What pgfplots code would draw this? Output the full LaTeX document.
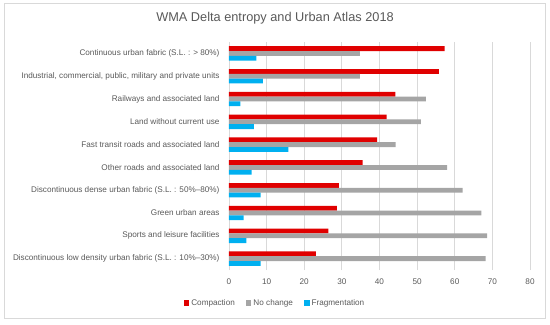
\documentclass[border=0pt]{standalone}
\usepackage{fontspec}
\setmainfont{Liberation Sans}
\usepackage{pgfplots}
\usepackage{pgfplotstable}
\pgfplotsset{compat=1.18}
\definecolor{cred}{HTML}{E00000}
\definecolor{cgray}{HTML}{A5A5A5}
\definecolor{cblue}{HTML}{00B0F0}
\definecolor{ctext}{HTML}{595959}
\definecolor{cgrid}{HTML}{D9D9D9}
\pgfplotstableread{
pos comp nochange frag
9 57.3 34.8 7.3
8 55.8 34.8 9.0
7 44.2 52.3 3.0
6 41.9 51.0 6.6
5 39.4 44.3 15.8
4 35.5 58.0 6.0
3 29.2 62.1 8.4
2 28.7 67.1 3.9
1 26.4 68.6 4.6
0 23.1 68.2 8.4
}\datatable
\begin{document}
\begin{tikzpicture}[x=1bp,y=1bp]
\useasboundingbox (-229,-54) rectangle (321,270);
\draw[cgrid, line width=0.75bp] (-225,-48) rectangle (316,267);
\begin{axis}[
  at={(0,0)}, anchor=south west,
  scale only axis, width=301bp, height=228bp,
  xmin=0, xmax=80, ymin=-0.5, ymax=9.5,
  xbar, bar width=4.8bp,
  xtick={0,10,...,80},
  /pgf/number format/assume math mode=true,
  xmajorgrids, grid style={cgrid, line width=0.75bp},
  ytick={0,...,9},
  yticklabels={Discontinuous low density urban fabric (S.L. : 10\%--30\%),
    Sports and leisure facilities, Green urban areas,
    Discontinuous dense urban fabric (S.L. : 50\%--80\%),
    Other roads and associated land, Fast transit roads and associated land,
    Land without current use, Railways and associated land,
    {Industrial, commercial, public, military and private units},
    Continuous urban fabric (S.L. : > 80\%)},
  axis line style={draw=none},
  major tick length=0pt,
  tick label style={font=\fontsize{8.2}{10}\selectfont, text=ctext},
  yticklabel style={xshift=-6bp},
  xticklabel style={yshift=-5bp},
  legend style={at={(axis description cs:0.1528,-0.145)}, anchor=center,
    draw=none, fill=none, font=\fontsize{8.2}{10}\selectfont, text=ctext,
    /tikz/every even column/.append style={column sep=9bp}},
  legend columns=-1,
  legend image code/.code={\fill[#1] (0bp,-2.8bp) rectangle (5.6bp,2.8bp);},
]
\addplot[fill=cred, draw=none, bar shift=4.8bp] table[x=comp, y=pos] {\datatable};
\addplot[fill=cgray, draw=none, bar shift=0bp] table[x=nochange, y=pos] {\datatable};
\addplot[fill=cblue, draw=none, bar shift=-4.8bp] table[x=frag, y=pos] {\datatable};
\legend{Compaction, No change, Fragmentation}
\end{axis}
\node[text=ctext, font=\fontsize{12.8}{15}\selectfont] at (46,252) {WMA Delta entropy and Urban Atlas 2018};
\end{tikzpicture}
\end{document}
